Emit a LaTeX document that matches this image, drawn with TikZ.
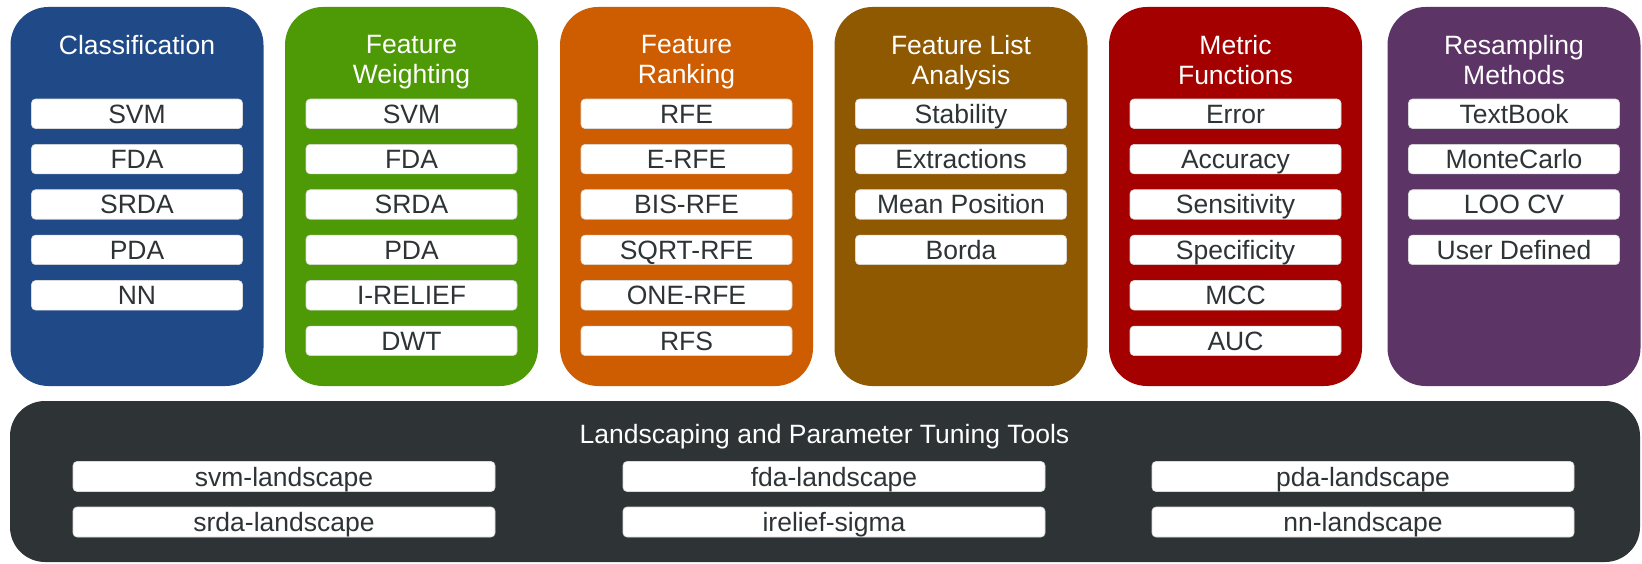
\documentclass[tikz,border=0pt]{standalone}
\usepackage{fontspec}
\setmainfont{Liberation Sans}
\definecolor{tblue}{HTML}{204A87}
\definecolor{tgreen}{HTML}{4E9A06}
\definecolor{torange}{HTML}{CE5C00}
\definecolor{tbrown}{HTML}{8F5902}
\definecolor{tred}{HTML}{A40000}
\definecolor{tplum}{HTML}{5C3566}
\definecolor{tdark}{HTML}{2E3436}
\begin{document}
\begin{tikzpicture}[x=1pt,y=-1pt,
  catbox/.style={draw=none, rounded corners=38pt, minimum width=253pt, minimum height=379pt, inner sep=0pt},
  toolbox/.style={draw=none, fill=tdark, rounded corners=35pt, minimum width=1630pt, minimum height=161pt, inner sep=0pt},
  cattitle/.style={text=white, align=center, inner sep=0pt, font=\fontsize{26.5}{30.5}\selectfont},
  item/.style={fill=white, draw=white!85!black, line width=0.6pt, rounded corners=4pt, minimum width=211pt, minimum height=29.5pt,
    inner ysep=0pt, text height=19pt, text depth=0pt, text=tdark, font=\fontsize{26.5}{30.5}\selectfont},
  wideitem/.style={item, minimum width=422pt, minimum height=30pt}
]
\useasboundingbox (0,0) rectangle (1642,564);

% category boxes
\node[catbox, fill=tblue]   (cls) at (137,196.5) {};
\node[catbox, fill=tgreen]  (fw)  at (411.5,196.5) {};
\node[catbox, fill=torange] (fr)  at (686.5,196.5) {};
\node[catbox, fill=tbrown]  (fl)  at (961,196.5) {};
\node[catbox, fill=tred]    (mf)  at (1235.5,196.5) {};
\node[catbox, fill=tplum]   (rs)  at (1514,196.5) {};

% titles
\node[cattitle, anchor=north] (clsT) at (137,35) {Classification};
\node[cattitle, anchor=north] (fwT)  at (411.5,35) {Feature\\Weighting};
\node[cattitle, anchor=north] (frT)  at (686.5,35) {Feature\\Ranking};
\node[cattitle, anchor=north] (flT)  at (961,35) {Feature List\\Analysis};
\node[cattitle, anchor=north] (mfT)  at (1235.5,35) {Metric\\Functions};
\node[cattitle, anchor=north] (rsT)  at (1514,35) {Resampling\\Methods};

% Classification
\node[item] (cls1) at (137,113.8) {SVM};
\node[item] (cls2) at (137,159.1) {FDA};
\node[item] (cls3) at (137,204.5) {SRDA};
\node[item] (cls4) at (137,249.9) {PDA};
\node[item] (cls5) at (137,295.3) {NN};

% Feature Weighting
\node[item] (fw1) at (411.5,113.8) {SVM};
\node[item] (fw2) at (411.5,159.1) {FDA};
\node[item] (fw3) at (411.5,204.5) {SRDA};
\node[item] (fw4) at (411.5,249.9) {PDA};
\node[item] (fw5) at (411.5,295.3) {I-RELIEF};
\node[item] (fw6) at (411.5,340.8) {DWT};

% Feature Ranking
\node[item] (fr1) at (686.5,113.8) {RFE};
\node[item] (fr2) at (686.5,159.1) {E-RFE};
\node[item] (fr3) at (686.5,204.5) {BIS-RFE};
\node[item] (fr4) at (686.5,249.9) {SQRT-RFE};
\node[item] (fr5) at (686.5,295.3) {ONE-RFE};
\node[item] (fr6) at (686.5,340.8) {RFS};

% Feature List Analysis
\node[item] (fl1) at (961,113.8) {Stability};
\node[item] (fl2) at (961,159.1) {Extractions};
\node[item] (fl3) at (961,204.5) {Mean Position};
\node[item] (fl4) at (961,249.9) {Borda};

% Metric Functions
\node[item] (mf1) at (1235.5,113.8) {Error};
\node[item] (mf2) at (1235.5,159.1) {Accuracy};
\node[item] (mf3) at (1235.5,204.5) {Sensitivity};
\node[item] (mf4) at (1235.5,249.9) {Specificity};
\node[item] (mf5) at (1235.5,295.3) {MCC};
\node[item] (mf6) at (1235.5,340.8) {AUC};

% Resampling Methods
\node[item] (rs1) at (1514,113.8) {TextBook};
\node[item] (rs2) at (1514,159.1) {MonteCarlo};
\node[item] (rs3) at (1514,204.5) {LOO CV};
\node[item] (rs4) at (1514,249.9) {User Defined};

% Tools
\node[toolbox] (tools) at (825,481.5) {};
\node[cattitle, anchor=base] (toolsT) at (824.5,443) {Landscaping and Parameter Tuning Tools};
\node[wideitem] (t1) at (284,476.5) {svm-landscape};
\node[wideitem] (t2) at (834,476.5) {fda-landscape};
\node[wideitem] (t3) at (1363,476.5) {pda-landscape};
\node[wideitem] (t4) at (284,522) {srda-landscape};
\node[wideitem] (t5) at (834,522) {irelief-sigma};
\node[wideitem] (t6) at (1363,522) {nn-landscape};
\end{tikzpicture}
\end{document}
